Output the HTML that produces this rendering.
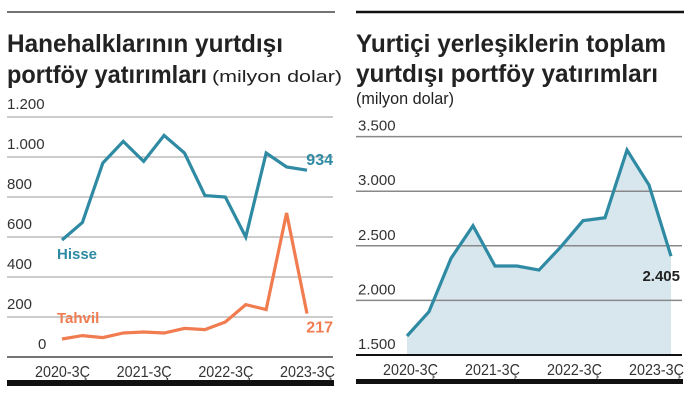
<!DOCTYPE html>
<html><head><meta charset="utf-8"><style>
html,body{margin:0;padding:0;background:#fff}
svg{display:block;font-family:"Liberation Sans",sans-serif}
</style></head><body>
<svg id="c" width="699" height="401" viewBox="0 0 699 401">
<line x1="7" y1="12" x2="335" y2="12" stroke="#222" stroke-width="1.2"/>
<line x1="356" y1="12" x2="684" y2="12" stroke="#111" stroke-width="2.5"/>
<text x="7" y="52" font-size="25" font-weight="bold" fill="#222" textLength="276" lengthAdjust="spacingAndGlyphs">Hanehalklarının yurtdışı</text>
<text x="7" y="83" font-size="25" font-weight="bold" fill="#222" textLength="200" lengthAdjust="spacingAndGlyphs">portföy yatırımları</text>
<text x="212" y="82" font-size="17" fill="#222" textLength="130" lengthAdjust="spacingAndGlyphs">(milyon dolar)</text>
<text x="356" y="52" font-size="25" font-weight="bold" fill="#222" textLength="310" lengthAdjust="spacingAndGlyphs">Yurtiçi yerleşiklerin toplam</text>
<text x="356" y="82" font-size="25" font-weight="bold" fill="#222" textLength="302" lengthAdjust="spacingAndGlyphs">yurtdışı portföy yatırımları</text>
<text x="356" y="104" font-size="17" fill="#222" textLength="98" lengthAdjust="spacingAndGlyphs">(milyon dolar)</text>
<rect x="7" y="380" width="327" height="6" fill="#111"/>
<rect x="356" y="379" width="327" height="5" fill="#111"/>
<g id="L"></g><g id="R"></g>
</svg>
<script>
const xLabels=["2020-3Ç","2021-3Ç","2022-3Ç","2023-3Ç"];
const hisse=[585,673,970,1078,978,1108,1020,807,800,600,1020,950,934];
const tahvil=[90,107,97,120,125,120,143,137,175,262,237,720,217];
const leftTicks=[0,200,400,600,800,1000,1200];
const leftTickLabels=["0","200","400","600","800","1.000","1.200"];
const total=[1674,1897,2385,2684,2315,2315,2278,2492,2730,2757,3377,3056,2405];
const rightTicks=[1500,2000,2500,3000,3500];
const rightTickLabels=["1.500","2.000","2.500","3.000","3.500"];
const NS="http://www.w3.org/2000/svg";
function mk(p,t,a){const e=document.createElementNS(NS,t);for(const k in a)e.setAttribute(k,a[k]);p.appendChild(e);return e;}
// left chart
const L=document.getElementById('L');
const lx=i=>62+i*(307-62)/(hisse.length-1);
const ly=v=>357-v*(240/1200);
leftTicks.forEach((t,i)=>{
  if(t>0){const g=mk(L,'line',{x1:7,x2:333,y1:ly(t),y2:ly(t),stroke:'#999','stroke-width':1});
  
  }
  const tx=mk(L,'text',{x:t===0?38:7,y:ly(t)-8,'font-size':15,fill:'#333'});tx.textContent=leftTickLabels[i];
  
  
});
const la=mk(L,'line',{x1:7,x2:333,y1:357,y2:357,stroke:'#222','stroke-width':1.3});


xLabels.forEach((s,i)=>{const t=mk(L,'text',{x:lx(i*4)-27,y:377,'font-size':16,fill:'#333',textLength:55,lengthAdjust:'spacingAndGlyphs'});t.textContent=s;
  
  });
const hp=mk(L,'polyline',{points:hisse.map((v,i)=>lx(i)+','+ly(v)).join(' '),fill:'none',stroke:'#2f8aa3','stroke-width':3.2,'stroke-linejoin':'miter'});


const tp=mk(L,'polyline',{points:tahvil.map((v,i)=>lx(i)+','+ly(v)).join(' '),fill:'none',stroke:'#f07c50','stroke-width':3.2});


let t1=mk(L,'text',{x:57,y:259,'font-size':15,'font-weight':'bold',fill:'#2f8aa3'});t1.textContent='Hisse';


let t2=mk(L,'text',{x:57,y:323,'font-size':15,'font-weight':'bold',fill:'#f07c50'});t2.textContent='Tahvil';


let t3=mk(L,'text',{x:333,y:ly(hisse[12])-5,'font-size':16,'font-weight':'bold',fill:'#2f8aa3','text-anchor':'end'});t3.textContent=String(hisse[12]);


let t4=mk(L,'text',{x:333,y:ly(tahvil[12])+19,'font-size':16,'font-weight':'bold',fill:'#f07c50','text-anchor':'end'});t4.textContent=String(tahvil[12]);


// right chart
const R=document.getElementById('R');
const rx=i=>407+i*(671-407)/(total.length-1);
const ry=v=>355-(v-1500)*(218.4/2000);
const area=mk(R,'polygon',{points:rx(0)+','+ry(1500)+' '+total.map((v,i)=>rx(i)+','+ry(v)).join(' ')+' '+rx(total.length-1)+','+ry(1500),fill:'#d8e7ee'});


rightTicks.forEach((t,i)=>{
  if(t>1500){const g=mk(R,'line',{x1:356,x2:682,y1:ry(t),y2:ry(t),stroke:'#888','stroke-width':1.5});
  
  }
  const tx=mk(R,'text',{x:358,y:ry(t)-6,'font-size':15,fill:'#333'});tx.textContent=rightTickLabels[i];
  
  
});
const ra=mk(R,'line',{x1:356,x2:682,y1:355,y2:355,stroke:'#111','stroke-width':2});


xLabels.forEach((s,i)=>{const t=mk(R,'text',{x:383+i*82,y:375,'font-size':16,fill:'#333',textLength:55,lengthAdjust:'spacingAndGlyphs'});t.textContent=s;
  
  });
const rp=mk(R,'polyline',{points:total.map((v,i)=>rx(i)+','+ry(v)).join(' '),fill:'none',stroke:'#2f8aa3','stroke-width':3.2});


let t5=mk(R,'text',{x:680,y:ry(total[12])+25,'font-size':15,'font-weight':'bold',fill:'#222','text-anchor':'end'});t5.textContent='2.405';


</script>
</body></html>
